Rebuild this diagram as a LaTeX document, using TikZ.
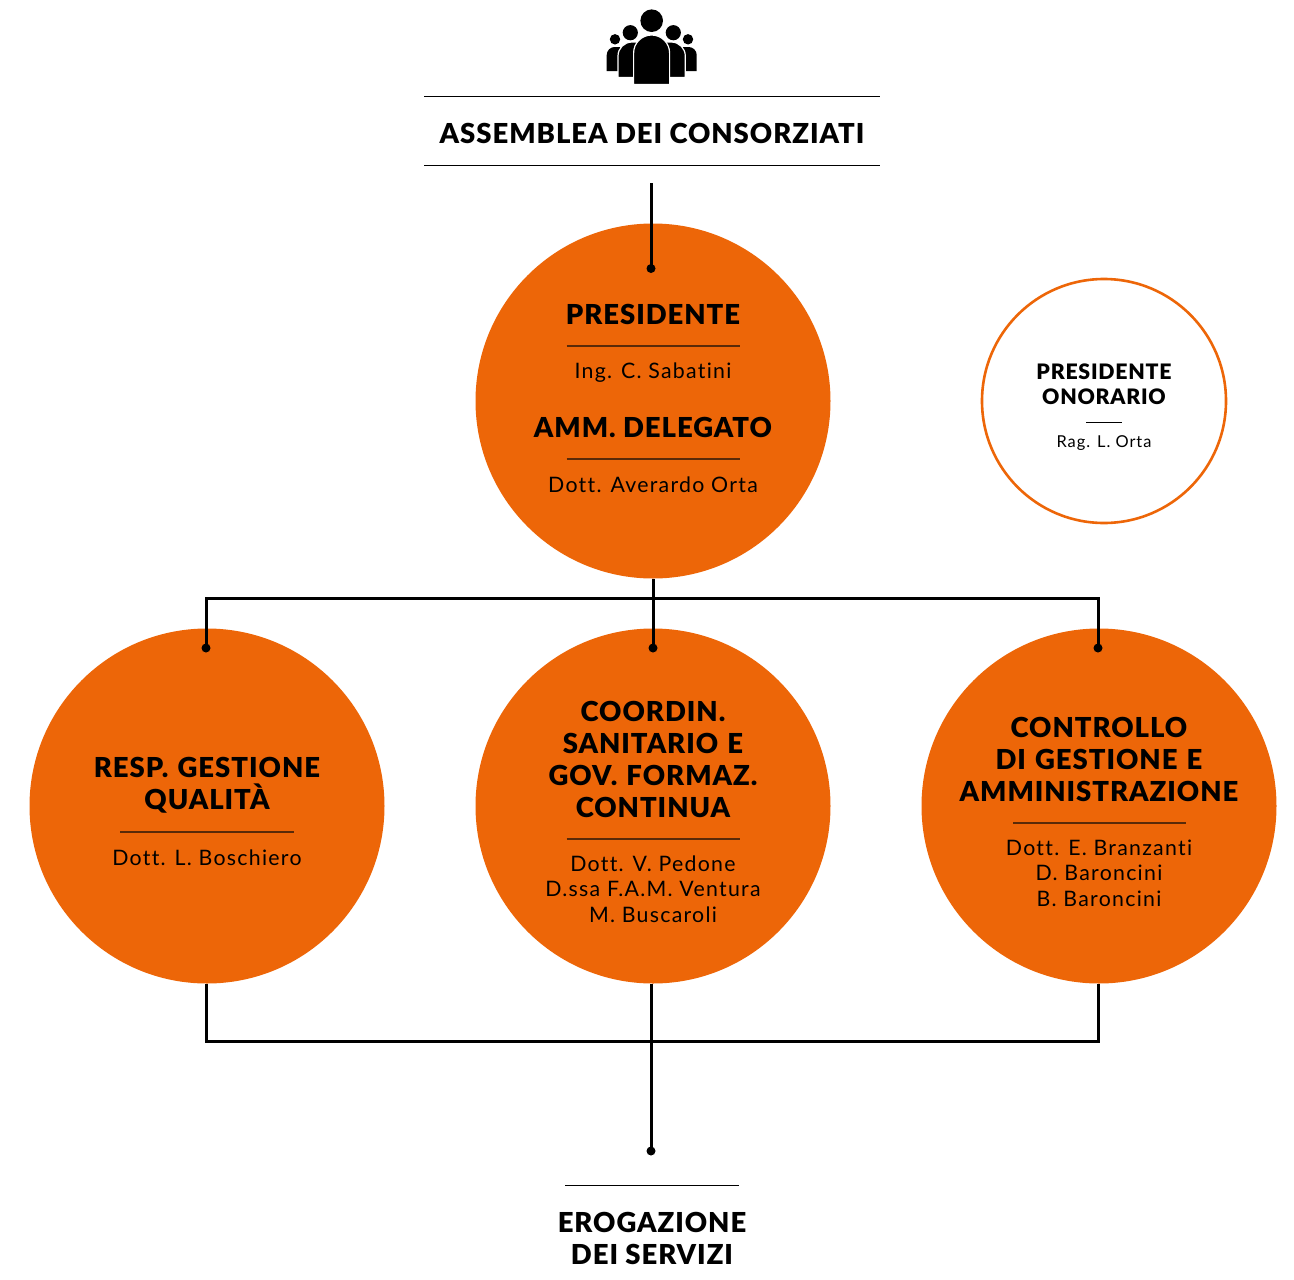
\documentclass[tikz,border=0pt]{standalone}
\usepackage{fontspec}
\setmainfont{Lato}
\newfontfamily\headf[LetterSpace=3.5,Ligatures=CommonOff]{Lato Black}
\newfontfamily\subf[LetterSpace=6,Ligatures=CommonOff]{Lato}
\definecolor{org}{HTML}{ED6608}
\definecolor{rulec}{HTML}{5A2A08}
\tikzset{
  disc/.style={circle,fill=org,minimum size=355pt,inner sep=0pt},
  ring/.style={circle,draw=org,line width=2.6pt,fill=white,minimum size=244pt,inner sep=0pt},
  head/.style={font=\headf\fontsize{27.5}{32}\selectfont,align=center,inner sep=0pt,text=black},
  headsmall/.style={font=\headf\fontsize{21.3}{25}\selectfont,align=center,inner sep=0pt},
  sub/.style={font=\subf\fontsize{21.3}{25.5}\selectfont,align=center,inner sep=0pt},
  subsmall/.style={font=\subf\fontsize{16.4}{19}\selectfont,align=center,inner sep=0pt},
  wire/.style={line width=3pt,black},
  blk/.style={black,line width=1pt},
  inner/.style={rulec,line width=1.3pt},
  tip/.style={circle,fill=black,minimum size=9pt,inner sep=0pt},
  person/.style={fill=black,draw=white,line width=1.2pt}
}
\begin{document}
\begin{tikzpicture}[x=1pt,y=-1pt]
\useasboundingbox (0,0) rectangle (1294,1280);
% icon
\fill[black] (651.7,20.7) circle (11.3) (630.3,32.7) circle (7.6) (673.3,32.7) circle (7.6) (615,39.3) circle (5.2) (688,39.3) circle (5.2);
\fill[black] (606.7,71) -- (606.7,55) arc[start angle=180,end angle=270,radius=8] -- (620,47) -- (620,71) -- cycle;
\fill[black] (696.7,71) -- (696.7,55) arc[start angle=0,end angle=-90,radius=8] -- (683,47) -- (683,71) -- cycle;
\filldraw[person] (618,77.5) -- (618,56) arc[start angle=180,end angle=270,radius=14] -- (640,42) -- (640,77.5) -- cycle;
\filldraw[person] (685.3,77.5) -- (685.3,56) arc[start angle=0,end angle=-90,radius=14] -- (664,42) -- (664,77.5) -- cycle;
\filldraw[person] (633.6,84.5) -- (633.6,53) arc[start angle=180,end angle=360,radius=18] -- (669.6,84.5) -- cycle;
% title
\coordinate (t1a) at (424,96); \coordinate (t1b) at (880,96);
\coordinate (t2a) at (424,165.5); \coordinate (t2b) at (880,165.5);
\draw[blk] (t1a) -- (t1b); \draw[blk] (t2a) -- (t2b);
\node[head] (assemblea) at (652,133) {ASSEMBLEA DEI CONSORZIATI};
% circles
\node[disc] (pres) at (653,401) {};
\node[disc] (qual) at (207,806) {};
\node[disc] (coord) at (653,806) {};
\node[disc] (contr) at (1099,806) {};
\node[ring] (onor) at (1104,401) {};
% connectors
\coordinate (top) at (651,183);
\node[tip] (d0) at (651,268.5) {};
\draw[wire] (top) -- (d0.center);
\node[tip] (d1) at (206,648) {};
\node[tip] (d2) at (653,648) {};
\node[tip] (d3) at (1098,648) {};
\coordinate (bus) at (653,598);
\draw[wire] (pres.south) -- (d2.center);
\draw[wire] (d1.center) -- (d1.center |- bus) -- (d3.center |- bus) -- (d3.center);
\coordinate (b1) at (206,984); \coordinate (b3) at (1098,984);
\coordinate (b2) at (651,984);
\node[tip] (d4) at (651,1151) {};
\draw[wire] (b1) -- (206,1041) -- (1098,1041) -- (b3);
\draw[wire] (b2) -- (d4.center);
% text
\node[head] (p1) at (653,314) {PRESIDENTE};
\draw[inner] (566.5,346) -- (739.5,346);
\node[sub] (p2) at (653,373) {Ing. C. Sabatini};
\node[head] (p3) at (653,427) {AMM. DELEGATO};
\draw[inner] (566.5,459) -- (739.5,459);
\node[sub] (p4) at (653,484.5) {Dott. Averardo Orta};
\node[headsmall] (o1) at (1104,384.5) {PRESIDENTE\\ONORARIO};
\draw[inner,black,line width=1pt] (1086,422.5) -- (1122,422.5);
\node[subsmall] (o2) at (1104,443.5) {Rag. L. Orta};
\node[head,text width=320pt] (q1) at (207,785.5) {RESP. GESTIONE\\QUALITÀ};
\draw[inner] (120,832) -- (294,832);
\node[sub] (q2) at (207,857.5) {Dott. L. Boschiero};
\node[head,text width=320pt] (c1) at (653,759) {COORDIN.\\SANITARIO E\\GOV. FORMAZ.\\CONTINUA};
\draw[inner] (566.5,839) -- (739.5,839);
\node[sub] (c2) at (653,889) {Dott. V. Pedone\\D.ssa F.A.M. Ventura\\M. Buscaroli};
\node[head,text width=330pt] (k1) at (1099,759) {CONTROLLO\\DI GESTIONE E\\AMMINISTRAZIONE};
\draw[inner] (1013,823) -- (1186,823);
\node[sub] (k2) at (1099,873) {Dott. E. Branzanti\\D. Baroncini\\B. Baroncini};
\coordinate (e1) at (565,1185); \coordinate (e2) at (739,1185);
\draw[blk] (e1) -- (e2);
\node[head] (er) at (652,1238) {EROGAZIONE\\DEI SERVIZI};
\end{tikzpicture}
\end{document}
